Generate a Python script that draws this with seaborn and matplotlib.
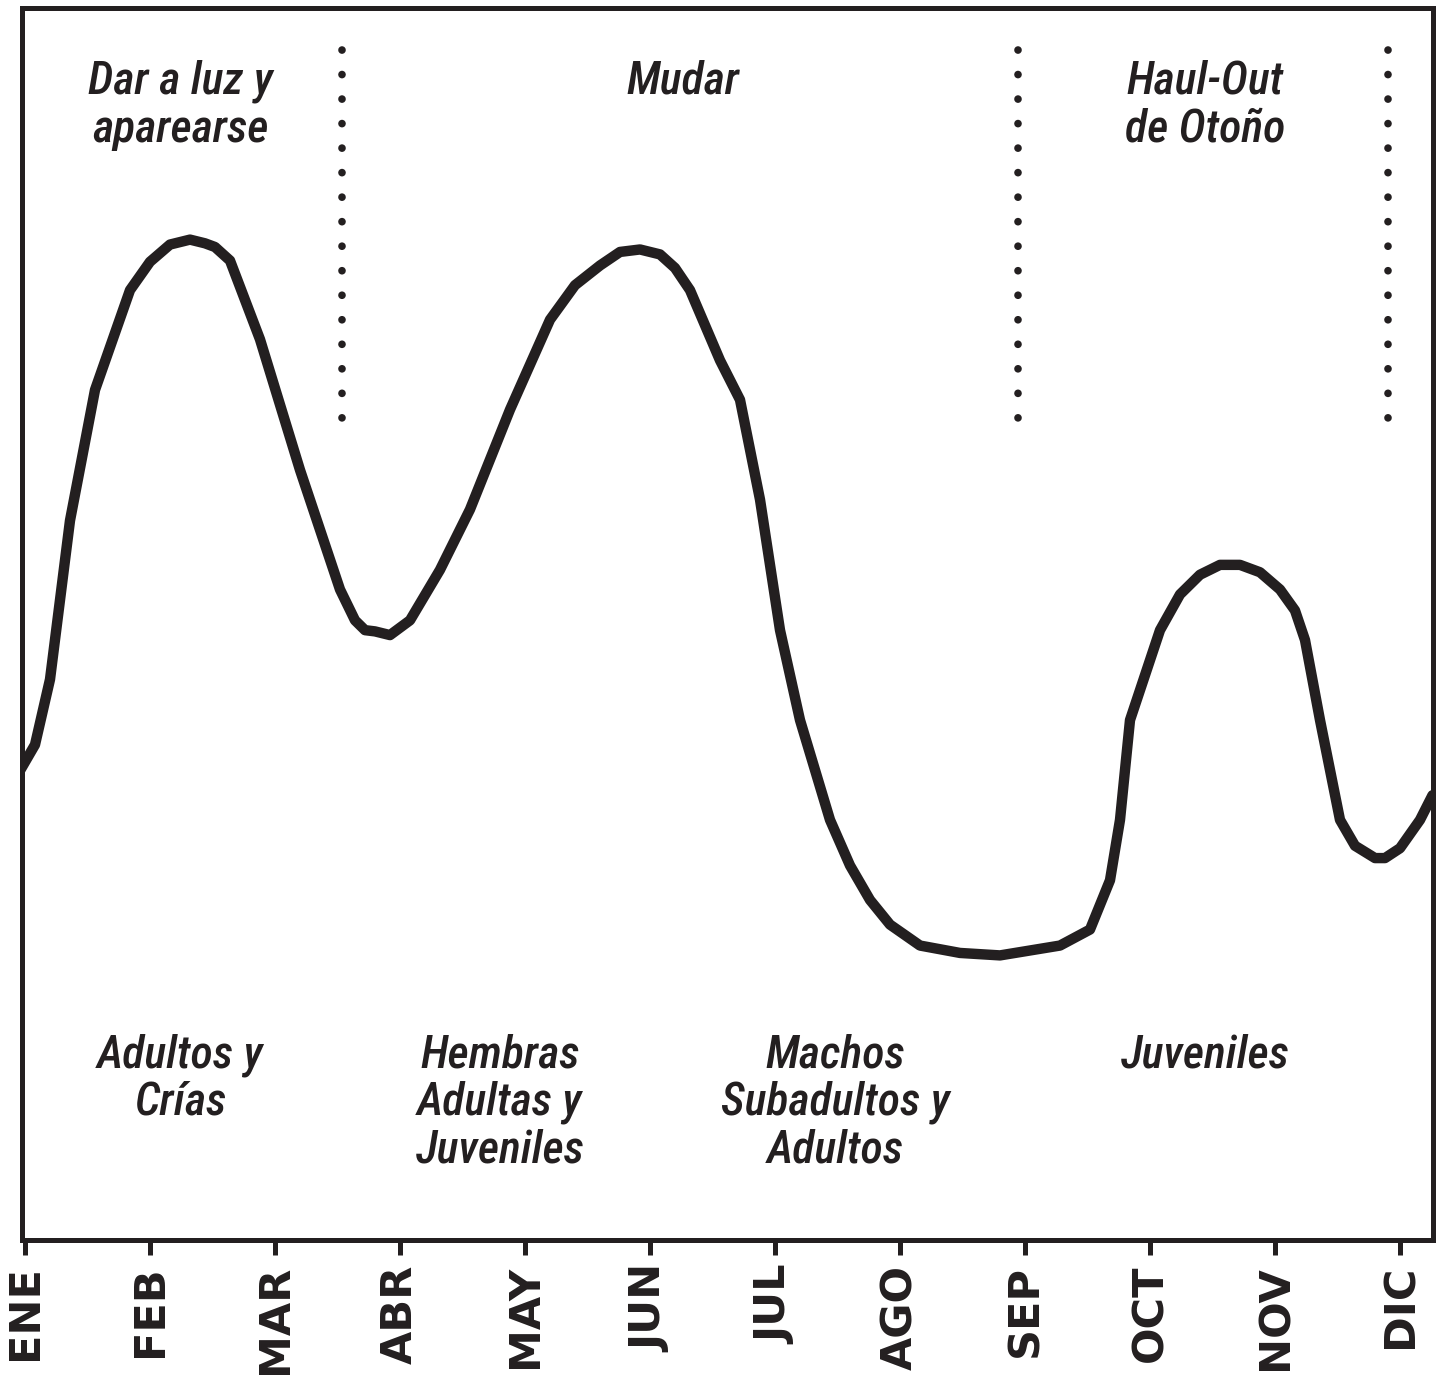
import numpy as np
import pandas as pd
import seaborn as sns
import matplotlib.pyplot as plt

# month positions (0 = ENE) and relative abundance (0-100)
month_pos = [-0.04, 0.08, 0.2, 0.36, 0.56, 0.84, 1.0, 1.16, 1.32, 1.44, 1.52, 1.64,
             1.88, 2.2, 2.52, 2.64, 2.72, 2.8, 2.92, 3.08, 3.32, 3.56, 3.88, 4.2,
             4.4, 4.6, 4.76, 4.92, 5.08, 5.2, 5.32, 5.56, 5.72, 5.88, 6.04, 6.2,
             6.44, 6.6, 6.76, 6.92, 7.16, 7.48, 7.8, 8.28, 8.52, 8.68, 8.76, 8.84,
             9.08, 9.24, 9.4, 9.56, 9.72, 9.88, 10.04, 10.16, 10.24, 10.36, 10.52,
             10.64, 10.8, 10.88, 11.0, 11.16, 11.26]
abundance = [38.1, 40.2, 45.5, 58.4, 69.0, 77.1, 79.4, 80.8, 81.2, 80.9, 80.6, 79.5,
             73.1, 62.5, 52.8, 50.3, 49.5, 49.4, 49.1, 50.3, 54.4, 59.3, 67.4, 74.7,
             77.5, 79.1, 80.2, 80.4, 80.0, 78.9, 77.1, 71.4, 68.2, 60.1, 49.5, 42.2,
             34.1, 30.4, 27.6, 25.6, 23.9, 23.3, 23.1, 23.9, 25.2, 29.2, 34.1, 42.2,
             49.5, 52.4, 54.0, 54.8, 54.8, 54.2, 52.8, 51.1, 48.7, 42.2, 34.1,
             32.0, 31.0, 31.0, 31.8, 34.1, 36.1]

months = ["ENE", "FEB", "MAR", "ABR", "MAY", "JUN", "JUL", "AGO", "SEP", "OCT", "NOV", "DIC"]

# phase boundaries (month units) and phase labels
phase_bounds = [2.536, 7.944, 10.904]
phase_labels = ["Dar a luz y\naparearse", "Mudar", "Haul-Out\nde Otoño"]
phase_label_x = [1.24, 5.26, 9.44]

# who hauls out in each season
group_labels = ["Adultos y\nCrías", "Hembras\nAdultas y\nJuveniles",
                "Machos\nSubadultos y\nAdultos", "Juveniles"]
group_label_x = [1.24, 3.8, 6.48, 9.44]

df = pd.DataFrame({"mes": month_pos, "abundancia": abundance})

sns.set_theme(style="white")
plt.rcParams['font.family'] = ['Roboto Condensed', 'DejaVu Sans']

fig = plt.figure(figsize=(14.47, 13.78), dpi=100)
ax = fig.add_axes([22 / 1447, 138 / 1378, 1411 / 1447, 1232 / 1378])

sns.lineplot(data=df, x="mes", y="abundancia", sort=False, color="#231f20",
             linewidth=7.5, ax=ax, solid_capstyle="round", solid_joinstyle="round")

# dotted phase boundaries
for xb in phase_bounds:
    ax.plot([xb, xb], [96.6, 66.3], color="#231f20", linewidth=5.5,
            linestyle=(0, (0.01, 3.2)), dash_capstyle="round")

txt_kw = dict(ha="center", va="top", fontsize=33, style="italic", fontweight="medium",
              color="#231f20", linespacing=1.13)
for lab, xl in zip(phase_labels, phase_label_x):
    ax.text(xl, 95.8, lab, **txt_kw)
for lab, xl in zip(group_labels, group_label_x):
    ax.text(xl, 16.8, lab, **txt_kw)

ax.set_xlim(-0.024, 11.264)
ax.set_ylim(0, 100)
ax.set_xticks(range(12))
ax.set_xticklabels(months, rotation=90, fontsize=31, fontweight="bold",
                   family=['DejaVu Sans'], va="top")
ax.set_yticks([])
ax.set_xlabel("")
ax.set_ylabel("")
ax.tick_params(axis="x", length=11, width=3.6, color="#231f20", pad=7,
               labelcolor="#231f20", direction="out", bottom=True)
for sp in ax.spines.values():
    sp.set_linewidth(3.6)
    sp.set_color("#231f20")

fig.savefig("out.png", dpi=100)
